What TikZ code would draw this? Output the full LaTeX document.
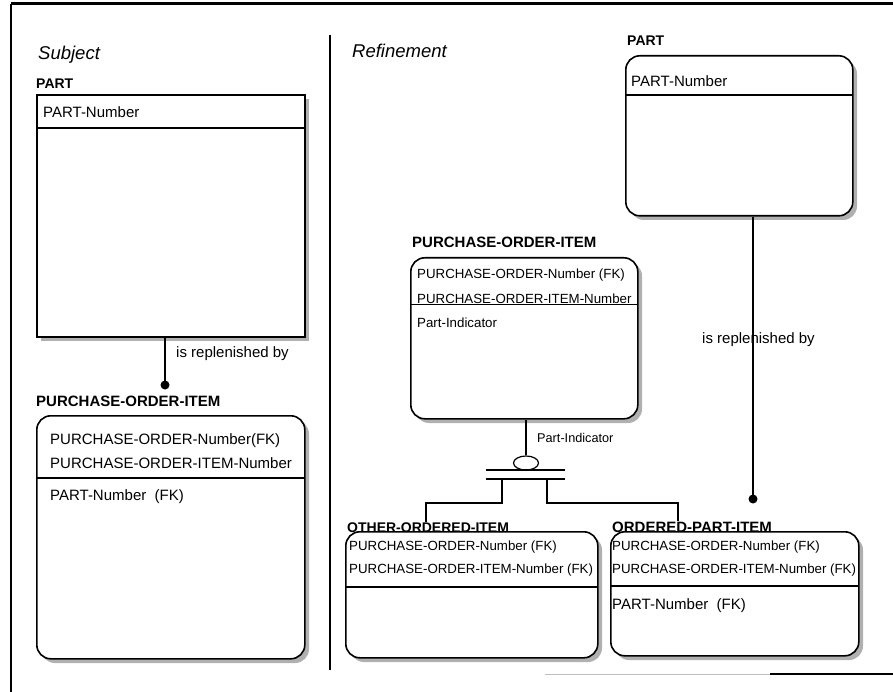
\documentclass[tikz,border=0pt]{standalone}
\usepackage{fontspec}
\setmainfont{Liberation Sans}
\usetikzlibrary{shapes.geometric}
\begin{document}
\begin{tikzpicture}[x=1pt,y=-1pt,
  ent/.style={draw, line width=1.6pt, fill=white, inner sep=0pt, anchor=north west},
  shd/.style={fill=gray!62},
  rnd/.style={rounded corners=14pt},
  sepline/.style={line width=1.4pt},
  conn/.style={line width=1.2pt},
  dot/.style={circle, fill=black, inner sep=0pt, minimum size=9pt},
  ttl/.style={anchor=base west, inner sep=0pt, font=\fontsize{18.5}{20}\selectfont\itshape},
  ename/.style={anchor=base west, inner sep=0pt, font=\fontsize{15}{16}\selectfont\bfseries},
  enameS/.style={anchor=base west, inner sep=0pt, font=\fontsize{14}{16}\selectfont\bfseries},
  attrL/.style={anchor=base west, inner sep=0pt, font=\fontsize{15}{17}\selectfont},
  attrS/.style={anchor=base west, inner sep=0pt, font=\fontsize{13.3}{15}\selectfont},
  lbl/.style={anchor=base west, inner sep=0pt, font=\fontsize{15}{17}\selectfont},
  lblS/.style={anchor=base west, inner sep=0pt, font=\fontsize{12.7}{14}\selectfont}]
\useasboundingbox (0,0) rectangle (893,692);
% frame
\draw[line width=3pt] (11,4) -- (893,4);
\draw[line width=2.5pt] (11,4) -- (11,692);
\draw[line width=1pt, gray!50] (545,674) -- (770,674);
\draw[line width=2pt] (770,674) -- (893,674);
\draw[line width=2.5pt] (330,35) -- (330,670);

% shadows
\fill[shd] (41,99) rectangle (309,341);
\fill[shd, rnd] (41,420) rectangle (309,663);
\fill[shd, rnd] (630,60) rectangle (857,220);
\fill[shd, rnd] (415,262) rectangle (642,423);
\fill[shd, rnd] (350,536) rectangle (602,662);
\fill[shd, rnd] (615,536) rectangle (863,660);

% ---------- Subject ----------
\node[ttl] (subj) at (38,60) {Subject};
\node[enameS] (lpartn) at (36,89) {PART};
\node[ent, minimum width=268pt, minimum height=242pt] (lpart) at (36,94) {};
\draw[sepline] (36,128) -- (304,128);
\node[attrL] (lpa1) at (43,118) {PART-Number};

\node[dot] (ld) at (165,385) {};
\draw[conn] (ld |- lpart.south) -- (ld.center);
\node[lbl] (lrep) at (176,357) {is replenished by};

\node[ename] (lpoin) at (36,406) {PURCHASE-ORDER-ITEM};
\node[ent, rnd, minimum width=268pt, minimum height=243pt] (lpoi) at (36,415) {};
\node[attrL] (lpoi1) at (50,444) {PURCHASE-ORDER-Number(FK)};
\node[attrL] (lpoi2) at (50,468) {PURCHASE-ORDER-ITEM-Number};
\draw[sepline] (36,478) -- (304,478);
\node[attrL] (lpoi3) at (50,500) {PART-Number\ \ (FK)};

% ---------- Refinement ----------
\node[ttl] (refi) at (352,58) {Refinement};
\node[enameS] (rpartn) at (627,46) {PART};
\node[ent, rnd, minimum width=227pt, minimum height=160pt] (rpart) at (625,55) {};
\draw[sepline] (625,95) -- (852,95);
\node[attrL] (rpa1) at (631,87) {PART-Number};

\node[ename] (mpoin) at (412,248) {PURCHASE-ORDER-ITEM};
\node[ent, rnd, minimum width=227pt, minimum height=161pt] (mpoi) at (410,257) {};
\node[attrS] (mpoi1) at (417,279) {PURCHASE-ORDER-Number (FK)};
\node[attrS] (mpoi2) at (417,303) {PURCHASE-ORDER-ITEM-Number};
\draw[sepline] (410,304.5) -- (637,304.5);
\node[attrS] (mpoi3) at (417,327) {Part-Indicator};

% subtype symbol
\node[draw, line width=1.2pt, ellipse, inner sep=0pt, minimum width=25pt, minimum height=14pt] (ell) at (526,463) {};
\draw[conn] (ell |- mpoi.south) -- (ell.north);
\node[lblS] (pind) at (537,442) {Part-Indicator};
\coordinate (b1l) at (486,470); \coordinate (b1r) at (565,470);
\coordinate (b2l) at (486,479); \coordinate (b2r) at (565,479);
\draw[line width=1.4pt] (b1l) -- (b1r);
\draw[line width=1.4pt] (b2l) -- (b2r);

% bottom subtypes
\node[ent, rnd, minimum width=252pt, minimum height=126pt] (oth) at (345,531) {};
\node[enameS] (othn) at (347,532) {OTHER-ORDERED-ITEM};
\node[attrS] (oth1) at (349,550) {PURCHASE-ORDER-Number (FK)};
\node[attrS] (oth2) at (349,573) {PURCHASE-ORDER-ITEM-Number (FK)};
\draw[sepline] (345,587) -- (597,587);

\node[ent, rnd, minimum width=248pt, minimum height=124pt] (opi) at (610,531) {};
\node[ename] (opin) at (612,532) {ORDERED-PART-ITEM};
\node[attrS] (opi1) at (612,550) {PURCHASE-ORDER-Number (FK)};
\node[attrS] (opi2) at (612,573) {PURCHASE-ORDER-ITEM-Number (FK)};
\draw[sepline] (610,586) -- (858,586);
\node[attrL] (opi3) at (612,609) {PART-Number\ \ (FK)};

% subtype connectors
\coordinate (lb) at (502,479);
\coordinate (rb) at (547,479);
\draw[conn] (lb) -- (502,503) -| (othn.north -| 426,0);
\draw[conn] (rb) -- (547,503) -| (opin.north -| 678,0);

% right relationship
\node[dot] (rd) at (753,499) {};
\draw[conn] (rd |- rpart.south) -- (rd.center);
\node[lbl] (rrep) at (702,343) {is replenished by};
\end{tikzpicture}
\end{document}
